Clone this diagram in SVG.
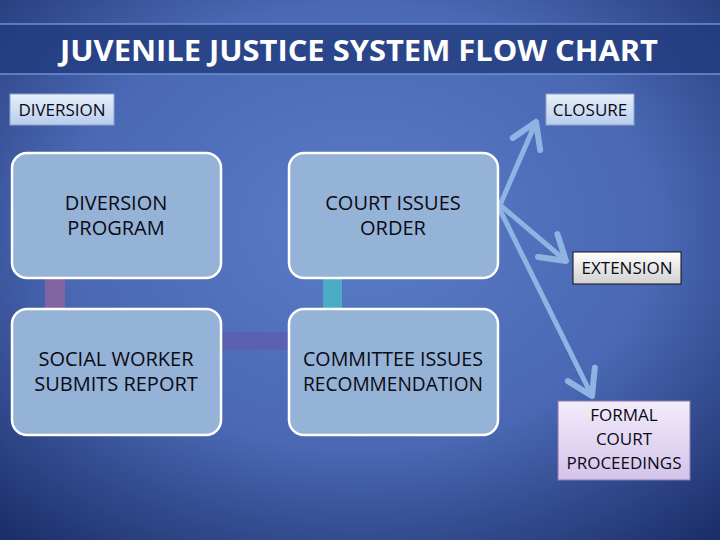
<svg xmlns="http://www.w3.org/2000/svg" width="720" height="540" viewBox="0 0 720 540">
<defs>
<radialGradient id="bg" cx="0.5" cy="0.42" r="0.75">
<stop offset="0" stop-color="#5a7cc8"/>
<stop offset="0.55" stop-color="#4a68b4"/>
<stop offset="1" stop-color="#1c2f6a"/>
</radialGradient>
<linearGradient id="lb" x1="0" y1="0" x2="0" y2="1">
<stop offset="0" stop-color="#e8f0fb"/>
<stop offset="1" stop-color="#b7cdec"/>
</linearGradient>
<linearGradient id="gr" x1="0" y1="0" x2="0" y2="1">
<stop offset="0" stop-color="#ffffff"/>
<stop offset="1" stop-color="#d0d0d0"/>
</linearGradient>
<linearGradient id="lv" x1="0" y1="0" x2="0" y2="1">
<stop offset="0" stop-color="#f3ecfb"/>
<stop offset="1" stop-color="#d4c3ea"/>
</linearGradient>
<marker id="ah" markerWidth="8" markerHeight="8" refX="6" refY="4" orient="auto" markerUnits="strokeWidth">
<polyline points="1.2,1 6,4 1.2,7" fill="none" stroke="#8db4e2" stroke-width="1.2" stroke-linecap="round" stroke-linejoin="round"/>
</marker>
</defs>
<style>
.t{font-family:"Open Sans","Noto Sans","Liberation Sans",sans-serif;fill:#0a0a14;text-anchor:middle}
.nd{fill:#95b3d7;stroke:#ffffff;stroke-width:2.5}
.lbl{font-size:17px}
.big{font-size:20px}
.arr{fill:none;stroke:#8db4e2;stroke-width:5;stroke-linecap:round;marker-end:url(#ah)}
</style>
<rect x="0" y="0" width="720" height="540" fill="url(#bg)"/>
<g id="title">
<rect x="-2" y="24" width="724" height="50" fill="#233c80" fill-opacity="0.8" stroke="#6f90d0" stroke-width="1.5"/>
<text x="359" y="61" font-family="'Open Sans','Noto Sans',sans-serif" font-weight="bold" font-size="29" fill="#ffffff" text-anchor="middle" textLength="598" lengthAdjust="spacingAndGlyphs">JUVENILE JUSTICE SYSTEM FLOW CHART</text>
</g>
<g id="connectors">
<rect x="45" y="278" width="20" height="32" fill="#8064a2"/>
<rect x="323" y="278" width="19" height="32" fill="#4bacc6"/>
<rect x="221" y="332" width="68" height="18" fill="#5a60b2"/>
<line class="arr" x1="500" y1="205" x2="536" y2="122"/>
<line class="arr" x1="500" y1="205" x2="566" y2="261"/>
<line class="arr" x1="500" y1="210" x2="592" y2="396"/>
</g>
<g id="diversion">
<rect x="10" y="94" width="104" height="31" fill="url(#lb)" stroke="#8fa3c8" stroke-width="1"/>
<text class="t lbl" x="62" y="116">DIVERSION</text>
</g>
<g id="closure">
<rect x="546" y="94" width="88" height="31" fill="url(#lb)" stroke="#8fa3c8" stroke-width="1"/>
<text class="t lbl" x="590" y="116">CLOSURE</text>
</g>
<g id="diversion-program">
<rect class="nd" x="12" y="153" width="209" height="125" rx="15"/>
<text class="t big" x="116" y="210">DIVERSION</text>
<text class="t big" x="116" y="235">PROGRAM</text>
</g>
<g id="court-issues-order">
<rect class="nd" x="289" y="153" width="209" height="125" rx="15"/>
<text class="t big" x="393" y="210">COURT ISSUES</text>
<text class="t big" x="393" y="235">ORDER</text>
</g>
<g id="social-worker">
<rect class="nd" x="12" y="309" width="209" height="126" rx="15"/>
<text class="t big" x="116" y="366">SOCIAL WORKER</text>
<text class="t big" x="116" y="391">SUBMITS REPORT</text>
</g>
<g id="committee">
<rect class="nd" x="289" y="309" width="209" height="126" rx="15"/>
<text class="t big" x="393" y="366" textLength="180" lengthAdjust="spacingAndGlyphs">COMMITTEE ISSUES</text>
<text class="t big" x="393" y="391" textLength="180" lengthAdjust="spacingAndGlyphs">RECOMMENDATION</text>
</g>
<g id="extension">
<rect x="573" y="252" width="108" height="32" fill="url(#gr)" stroke="#111111" stroke-width="1"/>
<text class="t lbl" x="627" y="274">EXTENSION</text>
</g>
<g id="formal">
<rect x="558" y="401" width="132" height="79" fill="url(#lv)" stroke="#8a7bb0" stroke-width="1"/>
<text class="t lbl" x="624" y="421">FORMAL</text>
<text class="t lbl" x="624" y="445">COURT</text>
<text class="t lbl" x="624" y="469">PROCEEDINGS</text>
</g>
</svg>
